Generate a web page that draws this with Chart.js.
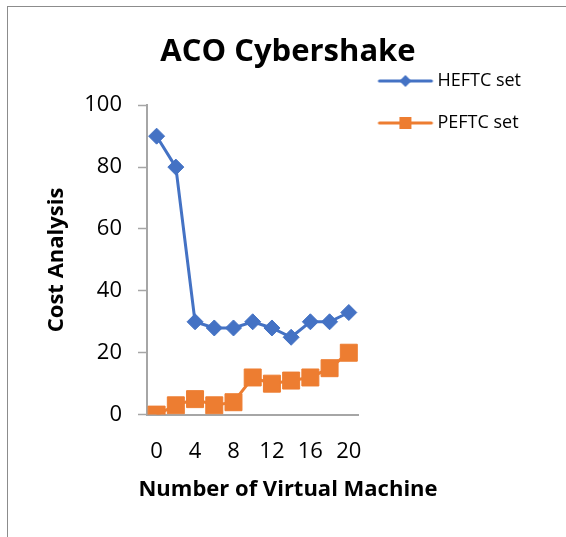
<!DOCTYPE html>
<html>
<head>
<meta charset="utf-8">
<script src="https://cdn.jsdelivr.net/npm/chart.js@4"></script>
<style>
  body { margin: 0; background: #fff; }
  #wrap { position: relative; width: 566px; height: 537px; overflow: hidden; }
  #frame { position: absolute; left: 7px; top: 6px; width: 700px; height: 700px;
           border-top: 1px solid #8c8c8c; border-left: 1px solid #8c8c8c; }
  #costChart { position: absolute; left: 0; top: 0; }
</style>
</head>
<body>
<div id="wrap">
  <div id="frame"></div>
  <canvas id="costChart" width="566" height="537"></canvas>
</div>
<script>
const vmLabels = ["0", "2", "4", "6", "8", "10", "12", "14", "16", "18", "20"];
const heftcSet = [90, 80, 30, 28, 28, 30, 28, 25, 30, 30, 33];
const peftcSet = [0, 3, 5, 3, 4, 12, 10, 11, 12, 15, 20];
const yTicks = [0, 20, 40, 60, 80, 100];

const blue = "#4472C4";
const orange = "#ED7D31";
const axisGray = "#a6a6a6";
const font = "'Open Sans', 'DejaVu Sans', sans-serif";

// legend swatch: line with the marker in the middle
function swatch(color, shape) {
  const c = document.createElement("canvas");
  c.width = 80;
  c.height = 30;
  const g = c.getContext("2d");
  const cx = 35, cy = 15;
  g.strokeStyle = color;
  g.lineWidth = 3;
  g.lineCap = "round";
  g.beginPath();
  g.moveTo(cx - 26, cy);
  g.lineTo(cx + 26, cy);
  g.stroke();
  g.fillStyle = color;
  g.beginPath();
  if (shape === "diamond") {
    g.moveTo(cx - 6, cy);
    g.lineTo(cx, cy - 6);
    g.lineTo(cx + 6, cy);
    g.lineTo(cx, cy + 6);
  } else {
    g.rect(cx - 6, cy - 6, 12, 12);
  }
  g.closePath();
  g.fill();
  return c;
}
const swatches = [swatch(blue, "diamond"), swatch(orange, "square")];

const ctx = document.getElementById("costChart");
new Chart(ctx, {
  type: "line",
  data: {
    labels: vmLabels,
    datasets: [{
      label: "HEFTC set",
      data: heftcSet,
      xAxisID: "x",
      yAxisID: "y",
      borderColor: blue,
      backgroundColor: blue,
      borderWidth: 3,
      pointStyle: "rectRot",
      pointRadius: 8,
      pointBorderWidth: 1,
      tension: 0
    }, {
      label: "PEFTC set",
      data: peftcSet,
      xAxisID: "x",
      yAxisID: "y",
      borderColor: orange,
      backgroundColor: orange,
      borderWidth: 3,
      pointStyle: "rect",
      pointRadius: 12,
      pointBorderWidth: 1,
      tension: 0
    }]
  },
  options: {
    responsive: false,
    animation: false,
    layout: { padding: { left: 45, right: 35, top: 0, bottom: 0 } },
    plugins: {
      title: {
        display: true,
        text: "ACO Cybershake",
        color: "#000",
        font: { family: font, size: 31, weight: "bold", lineHeight: 0.33 },
        padding: { top: 47, bottom: 0 }
      },
      subtitle: {
        display: true,
        position: "bottom",
        text: "Number of Virtual Machine",
        color: "#000",
        font: { family: font, size: 22, weight: "bold", lineHeight: 1.2 },
        padding: { top: 2, bottom: 34 }
      },
      legend: {
        display: true,
        position: "right",
        align: "start",
        maxWidth: 220,
        title: {
          display: true,
          text: " ",
          font: { size: 10, lineHeight: 1 },
          padding: { top: 38, bottom: 0 }
        },
        labels: {
          color: "#000",
          font: { family: font, size: 18 },
          usePointStyle: true,
          pointStyleWidth: 36,
          padding: 24,
          generateLabels: (chart) => {
            const items = Chart.defaults.plugins.legend.labels.generateLabels(chart);
            items.forEach((it, i) => { it.pointStyle = swatches[i]; });
            return items;
          }
        }
      },
      tooltip: { enabled: false }
    },
    scales: {
      x: {
        type: "category",
        offset: true,
        grid: { display: false, drawTicks: false, tickLength: 0 },
        border: { display: true, color: axisGray, width: 2 },
        ticks: {
          autoSkip: false,
          maxRotation: 0,
          color: "#000",
          font: { family: font, size: 22 },
          padding: 24,
          callback: function (value, index) {
            return index % 2 === 0 ? this.getLabelForValue(value) : "";
          }
        },
        afterFit: (s) => { s.height = 60; }
      },
      x2: {
        type: "category",
        position: "top",
        display: true,
        grid: { display: false, drawTicks: false },
        border: { display: false },
        ticks: { display: false },
        afterFit: (s) => { s.height = 48; }
      },
      y: {
        type: "linear",
        position: "left",
        min: 0,
        max: 100,
        afterBuildTicks: (s) => { s.ticks = yTicks.map(v => ({ value: v })); },
        grid: { drawOnChartArea: false, drawTicks: true, tickLength: 9, tickColor: axisGray, tickWidth: 1.5 },
        border: { display: true, color: axisGray, width: 2 },
        ticks: {
          color: "#000",
          font: { family: font, size: 22 },
          padding: 16
        },
        title: {
          display: true,
          text: "Cost Analysis",
          color: "#000",
          font: { family: font, size: 22, weight: "bold", lineHeight: 0.1 },
          padding: { top: 11, bottom: 0 }
        },
        afterFit: (s) => { s.width = 102; }
      },
      y2: {
        type: "linear",
        position: "right",
        display: true,
        grid: { display: false, drawTicks: false },
        border: { display: false },
        ticks: { display: false },
        afterFit: (s) => { s.width = 10; }
      }
    }
  }
});
</script>
</body>
</html>
